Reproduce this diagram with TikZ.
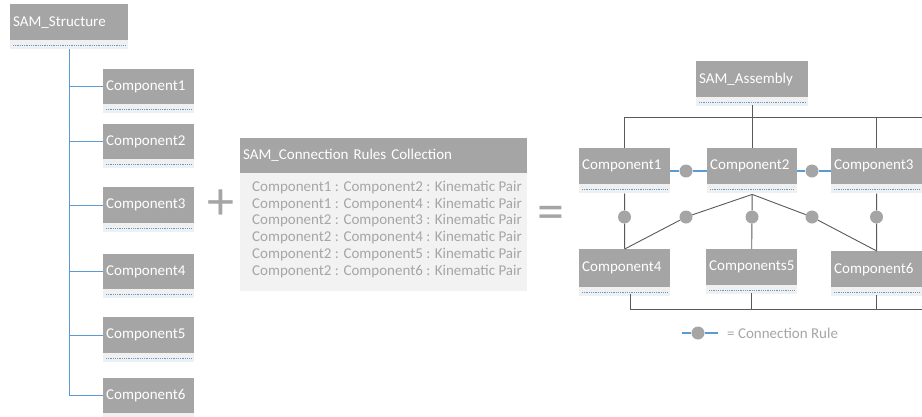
\documentclass[tikz,border=0pt]{standalone}
\usepackage{fontspec}
\setmainfont{Carlito}
\usepackage{tikz}
\usetikzlibrary{positioning}
\usepackage{xcolor}
\definecolor{boxgray}{HTML}{A5A5A5}
\definecolor{stripgray}{HTML}{F0F0F0}
\definecolor{bodygray}{HTML}{F2F2F2}
\definecolor{treeblue}{HTML}{5B9BD5}
\definecolor{linegray}{HTML}{595959}
\definecolor{textgray}{HTML}{A6A6A6}

\begin{document}
\begin{tikzpicture}[x=1pt, y=-1pt,
  box/.style={fill=boxgray, text=white, anchor=north west, inner xsep=3pt, inner ysep=0pt,
    minimum height=36pt, text width=85pt, align=left, font=\fontsize{15}{18}\selectfont},
  treeline/.style={draw=treeblue, line width=1.3pt},
  bus/.style={draw=linegray, line width=0.9pt},
  ruleline/.style={draw=treeblue, line width=1.2pt},
  ruledot/.style={circle, fill=boxgray, minimum size=13pt, inner sep=0pt},
  sign/.style={text=boxgray, inner sep=0pt, font=\fontsize{54}{54}\selectfont}]

\useasboundingbox (0,0) rectangle (922,416);

% left: structure tree
\node[box, text width=112pt] (sstruct) at (10,4) {SAM\_Structure};

\node[box, minimum height=35pt] (lc1) at (103,69) {Component1};
\node[box, minimum height=35pt] (lc2) at (103,124) {Component2};
\node[box, minimum height=36pt] (lc3) at (103,187) {Component3};
\node[box, minimum height=35pt] (lc4) at (103,254) {Component4};
\node[box, minimum height=36pt] (lc5) at (103,317) {Component5};
\node[box, minimum height=35pt] (lc6) at (103,378) {Component6};

\draw[treeline] ([yshift=-9pt]sstruct.south) |- (lc6.west)
  (lc1.west -| sstruct.south) -- (lc1.west)
  (lc2.west -| sstruct.south) -- (lc2.west)
  (lc3.west -| sstruct.south) -- (lc3.west)
  (lc4.west -| sstruct.south) -- (lc4.west)
  (lc5.west -| sstruct.south) -- (lc5.west);

\node[sign] (plus) at (221,205) {+};

% middle: connection rules
\node[box, minimum height=35pt, text width=281pt] (rulehead) at (240,138) {SAM\_Connection Rules Collection};
\fill[bodygray] (rulehead.south west) rectangle ++(287,118);
\node[anchor=north west, text=textgray, inner sep=0pt, align=left,
  font=\fontsize{15}{16.7}\selectfont] (rulelist) at (252,181)
  {Component1 : Component2 : Kinematic Pair\\
   Component1 : Component4 : Kinematic Pair\\
   Component2 : Component3 : Kinematic Pair\\
   Component2 : Component4 : Kinematic Pair\\
   Component2 : Component5 : Kinematic Pair\\
   Component2 : Component6 : Kinematic Pair};

\node[sign] (equal) at (551,218) {=};

% right: assembly
\node[box, text width=106pt] (asm) at (696,61) {SAM\_Assembly};

\node[box] (rc1) at (579,148) {Component1};
\node[box, text width=84pt] (rc2) at (707,148) {Component2};
\node[box] (rc3) at (831,148) {Component3};
\node[box, minimum height=38pt] (rc4) at (579,249) {Component4};
\node[box] (rc5) at (706,249) {Components5};
\node[box] (rc6) at (831,251) {Component6};

% strips under the boxes
\foreach \n in {sstruct,lc1,lc2,lc3,lc4,lc5,lc6,asm,rc1,rc2,rc3,rc4,rc5,rc6}
{
  \fill[stripgray] (\n.south west) rectangle ([yshift=-9pt]\n.south east);
  \draw[treeblue, line width=0.6pt, dash pattern=on 1pt off 0.8pt]
    ([xshift=3pt,yshift=-4.5pt]\n.south west) -- ([xshift=-3pt,yshift=-4.5pt]\n.south east);
}

\coordinate (topbus) at (922,117);
\coordinate (botbus) at (922,309);

\draw[bus] ([yshift=-8pt]asm.south) -- (rc2.north);
\draw[bus] (rc1.north) |- (topbus);
\draw[bus] (rc3.north) -- (rc3.north |- topbus);

\node[ruledot] (d12) at (686,171) {};
\node[ruledot] (d23) at (812,171) {};
\node[ruledot] (d14) at (624.5,217) {};
\node[ruledot] (d24) at (686,217) {};
\node[ruledot] (d25) at (752,217) {};
\node[ruledot] (d26) at (812,217) {};
\node[ruledot] (d36) at (876.5,217) {};

\draw[ruleline] (rc1.east |- d12) -- (d12) -- (rc2.west |- d12);
\draw[ruleline] (rc2.east |- d23) -- (d23) -- (rc3.west |- d23);

\draw[bus] ([yshift=-9pt]rc1.south) -- (d14) -- (rc4.north);
\draw[bus] ([yshift=-10pt]rc2.south) -- (d24) -- (rc4.north);
\draw[bus] ([yshift=-10pt]rc2.south) -- (d25) -- (rc5.north);
\draw[bus] ([yshift=-10pt]rc2.south) -- (d26) -- (rc6.north);
\draw[bus] ([yshift=-9pt]rc3.south) -- (d36) -- (rc6.north);

\draw[bus] ([xshift=5.5pt,yshift=-7pt]rc4.south) |- (botbus);
\draw[bus] ([yshift=-8pt]rc5.south) -- (rc5.south |- botbus);
\draw[bus] ([yshift=-8pt]rc6.south) -- (rc6.south |- botbus);

% legend
\node[ruledot] (legdot) at (698,333) {};
\coordinate (legl) at (682,333);
\coordinate (legr) at (718,333);
\draw[ruleline] (legl) -- (legdot) -- (legr);
\node[anchor=west, inner sep=0pt, text=textgray, font=\fontsize{15}{18}\selectfont] (legend) at (727,333) {= Connection Rule};

\end{tikzpicture}
\end{document}
